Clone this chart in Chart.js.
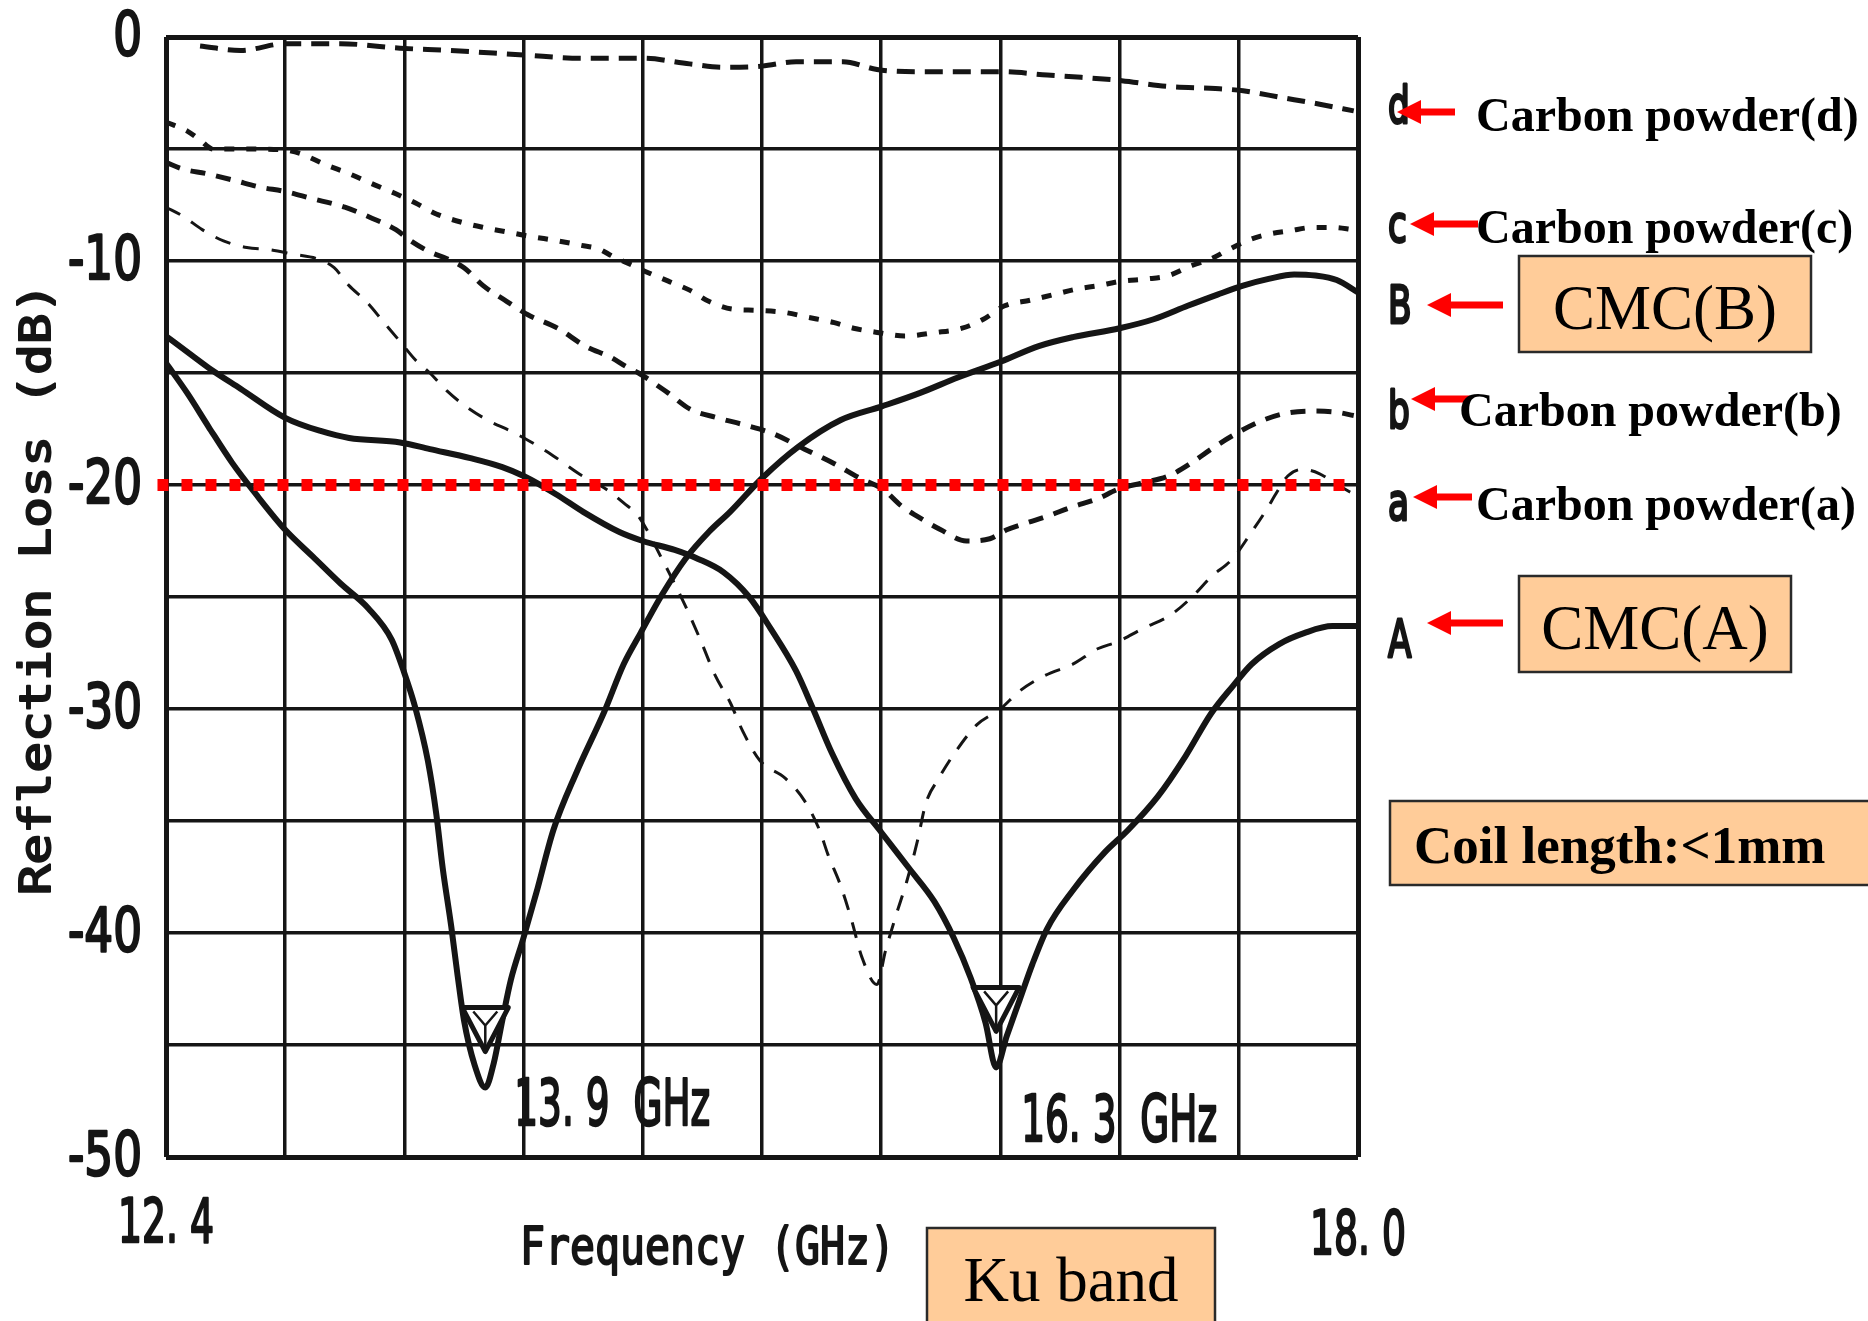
<!DOCTYPE html>
<html>
<head>
<meta charset="utf-8">
<title>Reflection loss - Ku band</title>
<script src="https://cdn.jsdelivr.net/npm/chart.js@4.4.1/dist/chart.umd.min.js"></script>
<style>
    html, body { margin: 0; padding: 0; background: #fff; }
    #rl_chart { display: block; }
</style>
</head>
<body>
<canvas id="rl_chart" width="1868" height="1321"></canvas>
<script>
// frequency (GHz) and reflection loss (dB) of every sample on each trace
var freqCmcA = [12.4, 12.52, 12.62, 12.75, 12.96, 13.13, 13.26, 13.5, 13.64, 13.83, 13.98, 14.08, 14.23, 14.36, 14.53, 14.64, 14.79, 14.9, 15.02, 15.14, 15.24, 15.36, 15.44, 15.53, 15.64, 15.76, 15.89, 16.01, 16.1, 16.18, 16.25, 16.3, 16.35, 16.41, 16.47, 16.54, 16.66, 16.81, 16.92, 17.06, 17.19, 17.31, 17.41, 17.5, 17.63, 17.75, 17.88, 18.0];
var lossCmcA = [-13.35, -14.2, -14.9, -15.7, -17.0, -17.6, -17.9, -18.1, -18.4, -18.8, -19.2, -19.6, -20.4, -21.2, -22.1, -22.5, -22.9, -23.3, -23.9, -25.0, -26.4, -28.3, -30.0, -32.0, -34.0, -35.5, -37.1, -38.6, -40.2, -42.0, -44.0, -46.0, -44.6, -43.0, -41.4, -39.8, -38.1, -36.4, -35.4, -33.9, -32.1, -30.2, -29.0, -28.0, -27.1, -26.6, -26.3, -26.3];

var freqCmcB = [12.4, 12.5, 12.6, 12.71, 12.83, 12.96, 13.09, 13.22, 13.35, 13.46, 13.52, 13.57, 13.63, 13.67, 13.7, 13.74, 13.77, 13.8, 13.85, 13.9, 13.94, 13.98, 14.02, 14.08, 14.14, 14.22, 14.33, 14.46, 14.55, 14.63, 14.73, 14.84, 14.95, 15.05, 15.2, 15.37, 15.57, 15.76, 15.94, 16.12, 16.32, 16.5, 16.66, 16.88, 17.04, 17.2, 17.34, 17.46, 17.58, 17.7, 17.8, 17.9, 18.0];
var lossCmcB = [-14.55, -15.9, -17.4, -19.0, -20.5, -22.0, -23.2, -24.4, -25.5, -26.9, -28.4, -29.9, -32.3, -34.7, -37.1, -39.7, -41.9, -43.9, -45.9, -46.9, -45.8, -43.9, -42.1, -40.2, -38.2, -35.4, -32.8, -30.1, -28.0, -26.6, -24.9, -23.3, -22.1, -21.2, -19.7, -18.3, -17.1, -16.5, -15.9, -15.2, -14.5, -13.8, -13.4, -13.0, -12.6, -12.0, -11.5, -11.1, -10.8, -10.6, -10.65, -10.85, -11.4];

var freqCarbonA = [12.4, 12.48, 12.57, 12.67, 12.78, 12.89, 13.0, 13.11, 13.19, 13.26, 13.34, 13.42, 13.5, 13.57, 13.64, 13.72, 13.81, 13.91, 14.02, 14.1, 14.22, 14.34, 14.47, 14.55, 14.62, 14.73, 14.84, 14.91, 14.98, 15.05, 15.11, 15.19, 15.31, 15.4, 15.47, 15.51, 15.57, 15.62, 15.67, 15.74, 15.78, 15.83, 15.88, 15.93, 15.97, 16.03, 16.11, 16.21, 16.32, 16.41, 16.53, 16.66, 16.78, 16.87, 16.99, 17.12, 17.22, 17.31, 17.41, 17.5, 17.57, 17.62, 17.67, 17.74, 17.82, 17.88, 17.96, 18.0];
var lossCarbonA = [-7.6, -8.0, -8.6, -9.1, -9.4, -9.5, -9.7, -9.9, -10.3, -11.1, -11.8, -12.7, -13.6, -14.4, -15.0, -15.8, -16.5, -17.1, -17.6, -18.0, -18.7, -19.5, -20.2, -20.8, -21.4, -23.3, -25.4, -26.9, -28.5, -29.7, -31.0, -32.3, -33.1, -34.1, -35.4, -36.5, -37.9, -39.4, -41.1, -42.3, -40.8, -39.2, -37.7, -35.9, -34.2, -33.1, -31.9, -30.7, -30.0, -29.2, -28.5, -28.0, -27.3, -27.0, -26.4, -25.8, -25.0, -24.1, -23.3, -22.1, -21.1, -20.3, -19.6, -19.3, -19.5, -19.85, -20.3, -20.5];

var freqCarbonB = [12.4, 12.48, 12.59, 12.72, 12.84, 12.96, 13.08, 13.24, 13.37, 13.48, 13.55, 13.64, 13.72, 13.8, 13.89, 14.0, 14.1, 14.24, 14.37, 14.49, 14.56, 14.62, 14.76, 14.86, 14.99, 15.11, 15.25, 15.4, 15.54, 15.66, 15.77, 15.85, 15.93, 16.04, 16.16, 16.27, 16.35, 16.44, 16.54, 16.65, 16.78, 16.87, 16.99, 17.11, 17.22, 17.31, 17.41, 17.53, 17.66, 17.79, 17.9, 17.98];
var lossCarbonB = [-5.6, -5.9, -6.1, -6.4, -6.7, -6.9, -7.2, -7.6, -8.1, -8.6, -9.1, -9.6, -9.9, -10.3, -11.1, -11.8, -12.4, -13.0, -13.8, -14.3, -14.7, -15.0, -15.9, -16.6, -17.0, -17.3, -17.7, -18.4, -19.05, -19.7, -20.2, -20.9, -21.4, -22.0, -22.5, -22.4, -22.0, -21.7, -21.4, -21.0, -20.6, -20.2, -19.9, -19.6, -19.0, -18.4, -17.8, -17.2, -16.8, -16.7, -16.75, -16.9];

var freqCarbonC = [12.4, 12.5, 12.56, 12.62, 12.8, 12.96, 13.03, 13.15, 13.26, 13.38, 13.48, 13.57, 13.67, 13.8, 13.89, 14.0, 14.11, 14.24, 14.35, 14.43, 14.5, 14.57, 14.66, 14.76, 14.86, 14.95, 15.06, 15.17, 15.31, 15.41, 15.54, 15.63, 15.75, 15.87, 16.01, 16.14, 16.24, 16.34, 16.46, 16.57, 16.68, 16.78, 16.89, 17.01, 17.11, 17.22, 17.31, 17.39, 17.49, 17.58, 17.68, 17.79, 17.88, 17.98];
var lossCarbonC = [-3.8, -4.2, -4.6, -5.0, -5.0, -5.05, -5.2, -5.7, -6.1, -6.6, -7.0, -7.4, -7.9, -8.3, -8.5, -8.7, -8.9, -9.1, -9.3, -9.45, -9.8, -10.1, -10.5, -10.9, -11.3, -11.8, -12.15, -12.2, -12.3, -12.5, -12.75, -13.0, -13.2, -13.35, -13.2, -13.0, -12.6, -12.0, -11.75, -11.5, -11.25, -11.1, -10.9, -10.8, -10.65, -10.2, -9.9, -9.5, -9.05, -8.8, -8.65, -8.5, -8.5, -8.6];

var freqCarbonD = [12.56, 12.75, 12.96, 13.22, 13.5, 13.73, 14.08, 14.36, 14.64, 14.86, 15.02, 15.2, 15.36, 15.58, 15.74, 15.92, 16.14, 16.33, 16.54, 16.7, 16.89, 17.1, 17.33, 17.46, 17.64, 17.82, 17.98];
var lossCarbonD = [-0.4, -0.6, -0.3, -0.3, -0.5, -0.6, -0.8, -0.95, -0.95, -1.2, -1.35, -1.3, -1.1, -1.1, -1.45, -1.55, -1.55, -1.55, -1.7, -1.8, -1.95, -2.2, -2.3, -2.4, -2.7, -3.0, -3.3];

// -20 dB reference level
var limitFreq = [12.36, 17.95];
var limitLoss = [-20, -20];

// absorption peaks of the two CMC samples
var dipFreqs = [13.9, 16.3];
var dipLoss = [-46.9, -46.0];

var gridFreqs = [12.4, 12.96, 13.52, 14.08, 14.64, 15.2, 15.76, 16.32, 16.88, 17.44, 18.0];
var xTickValues = [12.4, 18.0];
var xTickLabels = ['12. 4', '18. 0'];
var yTickValues = [0, -10, -20, -30, -40, -50];

var seriesLetters = ['d', 'c', 'B', 'b', 'a', 'A'];
var seriesNames = ['Carbon powder(d)', 'Carbon powder(c)', 'CMC(B)', 'Carbon powder(b)', 'Carbon powder(a)', 'CMC(A)'];

var ink = '#151515';

function points(xs, ys) {
    return xs.map(function (v, i) { return { x: v, y: ys[i] }; });
}

function trace(label, xs, ys, width, dash, order) {
    return {
        label: label,
        data: points(xs, ys),
        showLine: true,
        borderColor: ink,
        borderWidth: width,
        borderDash: dash,
        pointRadius: 0,
        fill: false,
        cubicInterpolationMode: 'monotone',
        order: order
    };
}

// condensed scan-style lettering: glyphs squeezed horizontally by k,
// with a thin outline so the strokes read as heavy as the printed ones
function squeezed(ctx, str, x, y, font, k, align, angle, weight) {
    ctx.save();
    ctx.font = font;
    ctx.textAlign = align || 'left';
    ctx.textBaseline = 'alphabetic';
    ctx.translate(x, y);
    if (angle) ctx.rotate(angle);
    ctx.scale(k, 1);
    ctx.fillText(str, 0, 0);
    if (weight) {
        ctx.strokeStyle = ctx.fillStyle;
        ctx.lineWidth = weight;
        ctx.lineJoin = 'round';
        ctx.strokeText(str, 0, 0);
    }
    ctx.restore();
}

function fitRatio(ctx, font, str, width) {
    ctx.save();
    ctx.font = font;
    var w = ctx.measureText(str).width;
    ctx.restore();
    return width / w;
}

function redArrow(ctx, tipX, tailX, y) {
    ctx.fillStyle = '#ff0000';
    ctx.fillRect(tipX + 18, y - 3.5, tailX - tipX - 18, 7);
    ctx.beginPath();
    ctx.moveTo(tipX, y);
    ctx.lineTo(tipX + 24, y - 12);
    ctx.lineTo(tipX + 24, y + 12);
    ctx.closePath();
    ctx.fill();
}

function peachBox(ctx, x, y, w, h) {
    ctx.fillStyle = '#ffcc99';
    ctx.fillRect(x, y, w, h);
    ctx.strokeStyle = '#2a2a2a';
    ctx.lineWidth = 2.5;
    ctx.strokeRect(x, y, w, h);
}

var overlay = {
    id: 'overlay',
    afterDatasetsDraw: function (chart) {
        var ctx = chart.ctx, xs = chart.scales.x, ys = chart.scales.y;
        // open triangle markers sitting in each absorption dip
        dipFreqs.forEach(function (f, i) {
            var px = xs.getPixelForValue(f), py = ys.getPixelForValue(dipLoss[i]);
            var top = py - 80, apex = py - 36, half = 23;
            ctx.save();
            ctx.beginPath();
            ctx.moveTo(px - half, top);
            ctx.lineTo(px + half, top);
            ctx.lineTo(px, apex);
            ctx.closePath();
            ctx.fillStyle = '#fff';
            ctx.fill();
            ctx.lineJoin = 'round';
            ctx.lineWidth = 5;
            ctx.strokeStyle = ink;
            ctx.stroke();
            ctx.lineWidth = 2.5;
            ctx.beginPath();
            ctx.moveTo(px - 12, top + 4);
            ctx.lineTo(px, top + 18);
            ctx.lineTo(px + 12, top + 4);
            ctx.moveTo(px, top + 18);
            ctx.lineTo(px, apex - 3);
            ctx.stroke();
            ctx.restore();
        });
    },
    afterDraw: function (chart) {
        var ctx = chart.ctx, xs = chart.scales.x, ys = chart.scales.y, area = chart.chartArea;
        ctx.save();
        ctx.fillStyle = ink;

        // axis numbers
        var tickFont = '60px "DejaVu Sans", sans-serif';
        var ky = fitRatio(ctx, tickFont, '-10', 74);
        yTickValues.forEach(function (v) {
            squeezed(ctx, String(v), area.left - 24, ys.getPixelForValue(v) + 18, tickFont, ky, 'right', 0, 2.5);
        });
        var xFont = '60px "DejaVu Sans", sans-serif';
        var kx = fitRatio(ctx, xFont, xTickLabels[0], 96);
        var xDrop = [85, 97];
        xTickValues.forEach(function (v, i) {
            squeezed(ctx, xTickLabels[i], xs.getPixelForValue(v), area.bottom + xDrop[i], xFont, kx, 'center', 0, 2.5);
        });

        // axis titles
        var titleFont = '51px "DejaVu Sans Mono", monospace';
        squeezed(ctx, 'Frequency (GHz)', 520, area.bottom + 107, titleFont,
            fitRatio(ctx, titleFont, 'Frequency (GHz)', 375), 'left', 0, 2);
        var yTitleFont = '43px "DejaVu Sans Mono", monospace';
        squeezed(ctx, 'Reflection Loss (dB)', 50, 589, yTitleFont,
            fitRatio(ctx, yTitleFont, 'Reflection Loss (dB)', 612), 'center', -Math.PI / 2, 2);

        // peak frequency labels
        var dipFont = '64px "DejaVu Sans", sans-serif';
        var dipLayout = [{ dx: 29, base: area.bottom - 32 }, { dx: 25, base: area.bottom - 16 }];
        dipFreqs.forEach(function (f, i) {
            var text = f.toFixed(1).replace('.', '. ') + '  GHz';
            squeezed(ctx, text, xs.getPixelForValue(f) + dipLayout[i].dx, dipLayout[i].base, dipFont,
                fitRatio(ctx, dipFont, text, 196), 'left', 0, 2.5);
        });

        // trace letters at the right edge, with red arrows and names
        var letterFont = '52px "DejaVu Sans", sans-serif';
        var letterBase = [123, 242, 323, 428, 520, 657];
        seriesLetters.forEach(function (s, i) {
            ctx.fillStyle = ink;
            squeezed(ctx, s, area.left + 1222, letterBase[i], letterFont, 0.66, 'left', 0, 3);
        });
        redArrow(ctx, 1397, 1455, 112);
        redArrow(ctx, 1410, 1478, 224);
        redArrow(ctx, 1427, 1503, 305);
        redArrow(ctx, 1411, 1470, 399);
        redArrow(ctx, 1413, 1472, 497);
        redArrow(ctx, 1427, 1503, 623);

        ctx.fillStyle = '#000';
        ctx.textBaseline = 'alphabetic';
        ctx.textAlign = 'left';
        ctx.font = 'bold 48px "Liberation Serif", "Times New Roman", serif';
        ctx.fillText(seriesNames[0], 1476, 131);
        ctx.fillText(seriesNames[1], 1476, 243);
        ctx.fillText(seriesNames[3], 1459, 426);
        ctx.fillText(seriesNames[4], 1476, 520);

        peachBox(ctx, 1519, 256, 292, 96);
        peachBox(ctx, 1519, 576, 272, 96);
        ctx.fillStyle = '#000';
        ctx.font = '63px "Liberation Serif", "Times New Roman", serif';
        ctx.textAlign = 'center';
        ctx.fillText(seriesNames[2], 1665, 329);
        ctx.fillText(seriesNames[5], 1655, 649);

        peachBox(ctx, 1390, 801, 500, 84);
        ctx.fillStyle = '#000';
        ctx.textAlign = 'left';
        ctx.font = 'bold 53px "Liberation Serif", "Times New Roman", serif';
        ctx.fillText('Coil length:<1mm', 1414, 863);

        peachBox(ctx, 927, 1228, 288, 120);
        ctx.fillStyle = '#000';
        ctx.textAlign = 'center';
        ctx.font = '63px "Liberation Serif", "Times New Roman", serif';
        ctx.fillText('Ku band', 1071, 1301);
        ctx.restore();
    }
};

var gridWidth = function (c) { return (c.index === 0 || c.index === 10) ? 5 : 3.5; };

var chart = new Chart(document.getElementById('rl_chart'), {
    type: 'scatter',
    data: {
        datasets: [
            {
                label: '-20 dB',
                data: points(limitFreq, limitLoss),
                showLine: true,
                borderColor: '#ff0000',
                borderWidth: 12,
                borderDash: [11, 13],
                borderCapStyle: 'butt',
                pointRadius: 0,
                clip: false,
                order: 0
            },
            trace(seriesNames[5], freqCmcA, lossCmcA, 6, [], 1),
            trace(seriesNames[2], freqCmcB, lossCmcB, 6, [], 1),
            trace(seriesNames[4], freqCarbonA, lossCarbonA, 3, [16, 13], 2),
            trace(seriesNames[3], freqCarbonB, lossCarbonB, 5, [15, 11], 2),
            trace(seriesNames[1], freqCarbonC, lossCarbonC, 5, [10, 12], 2),
            trace(seriesNames[0], freqCarbonD, lossCarbonD, 5, [18, 10], 2)
        ]
    },
    options: {
        responsive: false,
        animation: false,
        devicePixelRatio: 1,
        layout: { padding: { left: 0, top: 37, right: 510, bottom: 0 } },
        plugins: {
            legend: { display: false },
            tooltip: { enabled: false }
        },
        scales: {
            x: {
                type: 'linear',
                min: 12.4,
                max: 18.0,
                afterBuildTicks: function (s) { s.ticks = gridFreqs.map(function (v) { return { value: v }; }); },
                afterFit: function (s) { s.height = 164; },
                ticks: { display: false },
                grid: { color: ink, lineWidth: gridWidth, drawTicks: false },
                border: { display: false }
            },
            y: {
                min: -50,
                max: 0,
                ticks: { display: false, stepSize: 5 },
                afterFit: function (s) { s.width = 166; },
                grid: { color: ink, lineWidth: gridWidth, drawTicks: false },
                border: { display: false }
            }
        }
    },
    plugins: [overlay]
});
</script>
</body>
</html>
